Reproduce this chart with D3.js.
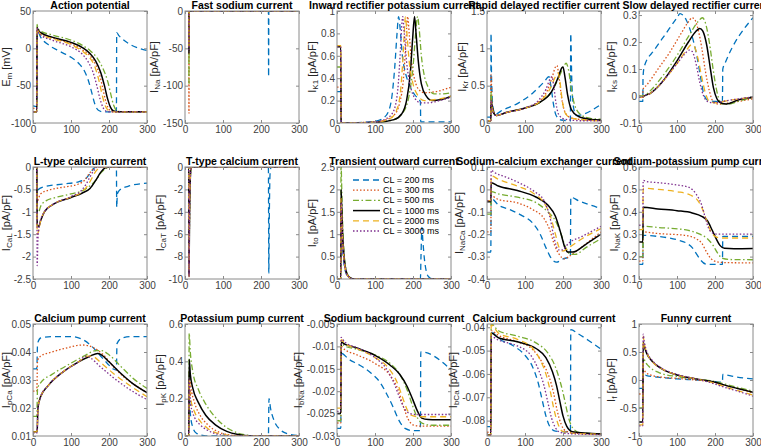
<!DOCTYPE html>
<html><head><meta charset="utf-8">
<script src="https://cdn.jsdelivr.net/npm/d3@7"></script>
<style>body{margin:0;background:#fff}svg{display:block;font-family:"Liberation Sans",Arial,Helvetica,sans-serif}</style>
</head><body><svg id="c" width="761" height="448"></svg>
<script>
// ---------------- data ----------------
const clLabels = ["CL = 200 ms","CL = 300 ms","CL = 500 ms","CL = 1000 ms","CL = 2000 ms","CL = 3000 ms"];
const xTicks = [0,100,200,300];
const panelTitles = ["Action potential","Fast sodium current","Inward rectifier potassium current","Rapid delayed rectifier current","Slow delayed rectifier current","L-type calcium current","T-type calcium current","Transient outward current","Sodium-calcium exchanger current","Sodium-potassium pump current","Calcium pump current","Potassium pump current","Sodium background current","Calcium background current","Funny current"];
const yMain = ["E","I","I","I","I","I","I","I","I","I","I","I","I","I","I"];
const ySub = ["m","Na","K1","Kr","Ks","CaL","CaT","to","NaCa","NaK","pCa","pK","bNa","bCa","f"];
const yUnit = ["[mV]","[pA/pF]","[pA/pF]","[pA/pF]","[pA/pF]","[pA/pF]","[pA/pF]","[pA/pF]","[pA/pF]","[pA/pF]","[pA/pF]","[pA/pF]","[pA/pF]","[pA/pF]","[pA/pF]"];
const yDomains = [[-100,50],[-150,0],[0,1],[0,1.5],[-0.1,0.315],[-2.5,0],[-10,0],[0,2.5],[-0.4,0.1],[0.1,0.6],[0.01,0.05],[0,0.6],[-0.03,-0.005],[-0.0866,-0.0386],[-1,1]];
const yTicks = [[-100,-50,0,50],[-150,-100,-50,0],[0,0.2,0.4,0.6,0.8,1],[0,0.5,1,1.5],[-0.1,0,0.1,0.2,0.3],[-2.5,-2,-1.5,-1,-0.5,0],[-10,-8,-6,-4,-2,0],[0,0.5,1,1.5,2,2.5],[-0.4,-0.3,-0.2,-0.1,0,0.1],[0.1,0.2,0.3,0.4,0.5,0.6],[0.01,0.02,0.03,0.04,0.05],[0,0.2,0.4,0.6],[-0.03,-0.025,-0.02,-0.015,-0.01,-0.005],[-0.08,-0.07,-0.06,-0.05,-0.04],[-1,-0.5,0,0.5,1]];

// each panel: six series (CL 200, 300, 500, 1000, 2000, 3000) of [time ms, value]
const emData = [
 [[0,-77],[10,-78],[10.6,20],[13,22],[20,15],[40,5],[70,-4],[100,-12],[120,-20],[135,-30],[145,-42],[155,-60],[163,-75],[172,-83],[185,-85],[219.5,-85],[220.3,21],[226,17],[300,-3]],
 [[0,-80],[10,-81],[10.6,27],[13,25],[20,19],[50,14],[100,6],[130,-2],[150,-10],[165,-22],[175,-35],[183,-52],[190,-68],[197,-79],[205,-84],[220,-85],[300,-85]],
 [[0,-85],[10,-85],[10.6,32],[13,27],[20,23],[50,18],[100,11],[130,4],[150,-3],[170,-14],[185,-28],[197,-45],[205,-62],[212,-76],[220,-83],[235,-85],[300,-85]],
 [[0,-85],[10,-85],[10.6,28],[13,25],[20,21],[50,15],[100,8],[130,1],[150,-7],[165,-17],[178,-32],[188,-50],[196,-67],[204,-79],[212,-84],[225,-85],[300,-85]],
 [[0,-85],[10,-85],[10.6,27],[13,24],[20,19],[50,13],[100,5],[130,-4],[150,-13],[163,-25],[173,-42],[181,-60],[188,-74],[196,-82],[205,-85],[300,-85]],
 [[0,-85],[10,-85],[10.6,27],[13,23],[20,18],[50,11],[100,2],[130,-8],[145,-18],[158,-32],[168,-50],[176,-67],[184,-79],[192,-84],[200,-85],[300,-85]]
];
const iNaData = [
 [[0,0],[10,0],[10.4,-40],[11,0],[219.5,0],[220,-88],[220.6,0],[300,0]],
 [[0,0],[10,0],[10.4,-137],[11,0],[300,0]],
 [[0,0],[10,0],[10.4,-97],[11,0],[300,0]],
 [[0,0],[10,0],[10.4,-57],[11,0],[300,0]],
 [[0,0],[10,0],[10.4,-48],[11,0],[300,0]],
 [[0,0],[10,0],[10.4,-52],[11,0],[300,0]]
];
const iK1Data = [
 [[0,0.28],[10,0.28],[10.6,0],[50,0.003],[100,0.015],[120,0.04],[135,0.1],[145,0.25],[152,0.5],[158,0.8],[162,0.95],[166,0.85],[172,0.6],[180,0.45],[192,0.33],[205,0.25],[218,0.2],[219.5,0.19],[220.3,0.01],[300,0.01]],
 [[0,0.32],[10,0.32],[10.6,0],[50,0.002],[100,0.01],[130,0.03],[150,0.07],[165,0.18],[175,0.4],[181,0.7],[186,0.95],[190,0.8],[196,0.55],[205,0.38],[215,0.3],[230,0.27],[260,0.28],[300,0.32]],
 [[0,0.5],[10,0.5],[10.6,0],[100,0.005],[150,0.03],[175,0.1],[190,0.25],[200,0.5],[207,0.8],[212,0.95],[216,0.85],[222,0.6],[230,0.42],[240,0.32],[255,0.26],[275,0.26],[300,0.27]],
 [[0,0.68],[10,0.68],[10.6,0],[100,0.005],[150,0.03],[170,0.08],[183,0.2],[193,0.45],[199,0.75],[204,0.95],[208,0.8],[214,0.55],[222,0.35],[235,0.24],[250,0.2],[275,0.21],[300,0.24]],
 [[0,0.69],[10,0.69],[10.6,0],[100,0.008],[140,0.04],[155,0.1],[166,0.25],[173,0.55],[177,0.8],[180,0.95],[184,0.8],[190,0.55],[200,0.35],[212,0.25],[230,0.2],[260,0.21],[300,0.24]],
 [[0,0.68],[10,0.68],[10.6,0],[100,0.01],[130,0.04],[148,0.1],[160,0.3],[166,0.6],[170,0.85],[173,0.95],[177,0.8],[183,0.55],[192,0.35],[205,0.22],[220,0.18],[240,0.18],[270,0.2],[300,0.23]]
];
const iKrData = [
 [[0,0.08],[10,0.08],[10.6,1.2],[12,0.6],[16,0.2],[22,0.12],[40,0.17],[80,0.26],[120,0.4],[150,0.55],[163,0.62],[168,0.5],[175,0.25],[182,0.1],[195,0.04],[219.5,0.03],[220.3,1.2],[223,0.6],[228,0.2],[235,0.1],[300,0.25]],
 [[0,0.03],[10,0.03],[10.6,0.65],[13,0.3],[18,0.15],[25,0.1],[50,0.14],[100,0.2],[140,0.3],[160,0.45],[172,0.62],[180,0.75],[184,0.77],[190,0.6],[196,0.35],[205,0.15],[220,0.07],[260,0.04],[300,0.03]],
 [[0,0.03],[10,0.03],[10.6,0.42],[13,0.25],[18,0.13],[25,0.1],[50,0.14],[100,0.2],[140,0.28],[170,0.42],[190,0.62],[203,0.77],[208,0.8],[215,0.7],[222,0.45],[232,0.22],[250,0.1],[275,0.06],[300,0.05]],
 [[0,0.03],[10,0.03],[10.6,0.3],[13,0.24],[18,0.13],[25,0.1],[50,0.14],[100,0.2],[140,0.28],[170,0.42],[188,0.62],[197,0.74],[200,0.75],[205,0.62],[212,0.38],[222,0.18],[240,0.09],[270,0.05],[300,0.04]],
 [[0,0.03],[10,0.03],[10.6,0.3],[13,0.22],[18,0.13],[25,0.1],[50,0.14],[100,0.2],[140,0.29],[165,0.45],[180,0.62],[187,0.67],[192,0.55],[198,0.3],[206,0.13],[220,0.07],[260,0.04],[300,0.03]],
 [[0,0.03],[10,0.03],[10.6,0.3],[13,0.2],[18,0.12],[25,0.1],[50,0.14],[100,0.2],[135,0.3],[155,0.45],[167,0.6],[171,0.62],[176,0.48],[182,0.25],[190,0.1],[205,0.05],[250,0.03],[300,0.03]]
];
const iKsData = [
 [[0,-0.02],[10,-0.02],[10.6,0.07],[14,0.11],[40,0.17],[70,0.23],[100,0.29],[108,0.305],[115,0.3],[125,0.28],[140,0.22],[152,0.15],[162,0.07],[170,0.01],[180,-0.015],[200,-0.02],[219.5,-0.02],[220.5,0.1],[226,0.12],[300,0.29]],
 [[0,0],[10,0],[10.6,0.025],[20,0.04],[50,0.1],[80,0.16],[110,0.23],[130,0.275],[140,0.29],[146,0.285],[155,0.25],[165,0.18],[175,0.09],[185,0.02],[195,-0.02],[210,-0.03],[240,-0.025],[300,-0.01]],
 [[0,0],[10,0],[10.6,0],[30,0.02],[60,0.07],[100,0.15],[130,0.22],[155,0.275],[167,0.29],[175,0.27],[185,0.2],[195,0.1],[203,0.03],[210,-0.01],[220,-0.03],[235,-0.03],[260,-0.02],[300,-0.005]],
 [[0,-0.005],[10,-0.005],[10.6,-0.003],[30,0.01],[60,0.05],[100,0.13],[130,0.2],[150,0.24],[160,0.25],[168,0.24],[178,0.19],[188,0.1],[196,0.03],[205,-0.01],[215,-0.025],[230,-0.03],[260,-0.015],[300,-0.005]],
 [[0,-0.005],[10,-0.005],[10.6,-0.003],[30,0.01],[60,0.05],[100,0.12],[125,0.17],[138,0.19],[145,0.185],[155,0.14],[165,0.07],[175,0.01],[185,-0.02],[200,-0.025],[240,-0.015],[300,-0.005]],
 [[0,-0.005],[10,-0.005],[10.6,-0.003],[30,0.01],[60,0.05],[100,0.12],[120,0.155],[132,0.17],[140,0.165],[150,0.12],[160,0.05],[170,0],[180,-0.02],[195,-0.025],[240,-0.015],[300,-0.003]]
];
const iCaLData = [
 [[0,0],[10,0],[11,-0.55],[14,-0.5],[30,-0.44],[80,-0.38],[120,-0.33],[140,-0.25],[150,-0.15],[158,-0.05],[165,0],[219.5,0],[220.3,-0.9],[222,-0.6],[230,-0.5],[250,-0.43],[300,-0.36]],
 [[0,0],[10,0],[11,-0.8],[14,-0.72],[20,-0.6],[40,-0.52],[80,-0.45],[120,-0.38],[135,-0.3],[148,-0.15],[158,-0.04],[168,0],[300,0]],
 [[0,0],[10,0],[11,-0.95],[15,-1.0],[20,-0.88],[35,-0.75],[60,-0.68],[100,-0.6],[130,-0.53],[150,-0.42],[165,-0.3],[180,-0.12],[195,-0.02],[205,0],[300,0]],
 [[0,0],[10,0],[11,-1.3],[15,-1.33],[20,-1.2],[30,-1.0],[50,-0.85],[100,-0.68],[130,-0.58],[150,-0.48],[165,-0.3],[178,-0.12],[190,-0.02],[200,0],[300,0]],
 [[0,0],[10,0],[11,-1.5],[14,-1.45],[20,-1.2],[30,-1.0],[50,-0.85],[100,-0.67],[130,-0.55],[145,-0.4],[155,-0.25],[165,-0.1],[175,-0.02],[185,0],[300,0]],
 [[0,0],[10,0],[11,-2.2],[13,-1.6],[18,-1.25],[30,-1.0],[50,-0.85],[100,-0.66],[128,-0.52],[140,-0.38],[150,-0.22],[160,-0.08],[170,0],[300,0]]
];
const iCaTData = [
 [[0,0],[10,0],[10.5,-9.3],[12,-4],[14,-1],[16,0],[219.5,0],[220.5,-9.5],[222,-4],[224,-0.5],[227,0],[300,0]],
 [[0,0],[10,0],[10.5,-9.5],[12,-4],[14,-1],[16,0],[300,0]],
 [[0,0],[10,0],[10.5,-9.6],[12,-4],[14,-1],[16,0],[300,0]],
 [[0,0],[10,0],[10.5,-9.7],[12,-4],[14,-1],[16,0],[300,0]],
 [[0,0],[10,0],[10.5,-9.8],[12,-4],[14,-1],[16,0],[300,0]],
 [[0,0],[10,0],[10.5,-9.8],[12,-4],[14,-1],[16,0],[300,0]]
];
const iToData = [
 [[0,0],[10,0],[10.6,1.4],[12,1.15],[15,0.65],[19,0.3],[24,0.12],[30,0.04],[38,0.01],[50,0],[219.5,0],[221,0.5],[223.5,1.15],[226,0.85],[230,0.45],[235,0.17],[241,0.05],[250,0.005],[260,0],[300,0]],
 [[0,0],[10,0],[10.6,1.6],[12,1.35],[15,0.8],[19,0.38],[24,0.15],[30,0.05],[38,0.012],[50,0],[300,0]],
 [[0,0],[10,0],[10.6,2.7],[12,2.2],[15,1.2],[19,0.55],[24,0.2],[30,0.07],[38,0.015],[50,0],[300,0]],
 [[0,0],[10,0],[10.6,2.0],[12,1.7],[15,0.95],[19,0.45],[24,0.17],[30,0.06],[38,0.014],[50,0],[300,0]],
 [[0,0],[10,0],[10.6,1.8],[12,1.5],[15,0.85],[19,0.4],[24,0.16],[30,0.055],[38,0.013],[50,0],[300,0]],
 [[0,0],[10,0],[10.6,1.7],[12,1.45],[15,0.82],[19,0.38],[24,0.15],[30,0.05],[38,0.012],[50,0],[300,0]]
];
const iNaCaData = [
 [[0,-0.28],[10,-0.28],[11,-0.04],[30,-0.07],[60,-0.09],[90,-0.115],[120,-0.15],[140,-0.2],[155,-0.26],[170,-0.31],[183,-0.325],[200,-0.31],[219.5,-0.3],[220.5,-0.035],[240,-0.05],[300,-0.085]],
 [[0,-0.19],[10,-0.19],[11,-0.03],[30,-0.045],[80,-0.06],[120,-0.09],[150,-0.13],[165,-0.18],[178,-0.25],[190,-0.29],[203,-0.31],[215,-0.3],[240,-0.27],[270,-0.23],[300,-0.19]],
 [[0,-0.11],[10,-0.11],[11,-0.01],[30,-0.02],[80,-0.035],[130,-0.06],[160,-0.1],[180,-0.14],[195,-0.2],[207,-0.26],[220,-0.29],[232,-0.29],[260,-0.26],[300,-0.22]],
 [[0,-0.055],[10,-0.055],[11,0.03],[30,0.015],[80,-0.005],[130,-0.035],[160,-0.07],[180,-0.12],[195,-0.2],[205,-0.26],[213,-0.28],[225,-0.28],[260,-0.245],[300,-0.2]],
 [[0,-0.05],[10,-0.05],[11,0.06],[30,0.045],[80,0.015],[120,-0.015],[150,-0.06],[165,-0.11],[180,-0.2],[190,-0.26],[200,-0.275],[215,-0.26],[250,-0.22],[300,-0.175]],
 [[0,-0.05],[10,-0.05],[11,0.085],[20,0.075],[50,0.055],[90,0.025],[125,-0.01],[150,-0.05],[165,-0.12],[177,-0.22],[188,-0.27],[198,-0.27],[215,-0.24],[250,-0.21],[300,-0.165]]
];
const iNaKData = [
 [[0,0.165],[10,0.165],[11,0.295],[50,0.29],[100,0.275],[125,0.26],[140,0.24],[152,0.21],[162,0.185],[175,0.167],[190,0.165],[219.5,0.165],[220.5,0.29],[300,0.29]],
 [[0,0.18],[10,0.18],[11,0.31],[50,0.303],[120,0.295],[150,0.28],[165,0.26],[178,0.22],[190,0.19],[205,0.177],[230,0.173],[300,0.172]],
 [[0,0.2],[10,0.2],[11,0.335],[50,0.33],[120,0.32],[160,0.3],[180,0.28],[195,0.25],[207,0.215],[220,0.192],[240,0.187],[300,0.186]],
 [[0,0.265],[10,0.265],[11,0.42],[50,0.413],[100,0.405],[140,0.395],[165,0.38],[180,0.36],[192,0.32],[203,0.28],[213,0.25],[225,0.237],[250,0.235],[300,0.236]],
 [[0,0.32],[10,0.32],[11,0.505],[50,0.5],[100,0.49],[135,0.475],[155,0.45],[170,0.4],[180,0.35],[190,0.31],[200,0.29],[215,0.283],[300,0.283]],
 [[0,0.34],[10,0.34],[11,0.54],[20,0.535],[50,0.53],[100,0.52],[130,0.51],[150,0.48],[165,0.43],[175,0.37],[185,0.32],[195,0.305],[210,0.3],[300,0.3]]
];
const iPCaData = [
 [[0,0.034],[10,0.034],[12,0.043],[20,0.045],[50,0.0455],[100,0.0455],[130,0.0445],[155,0.042],[175,0.039],[195,0.036],[210,0.034],[219.5,0.0335],[221,0.043],[235,0.045],[260,0.0455],[300,0.0455]],
 [[0,0.026],[10,0.026],[12,0.037],[20,0.0385],[50,0.04],[90,0.0415],[130,0.0425],[160,0.0415],[185,0.039],[210,0.035],[240,0.031],[270,0.028],[300,0.0255]],
 [[0,0.017],[10,0.017],[12,0.027],[20,0.029],[50,0.032],[100,0.036],[140,0.039],[165,0.0405],[180,0.0405],[200,0.039],[230,0.035],[260,0.031],[300,0.027]],
 [[0,0.0115],[10,0.0115],[11,0.012],[13,0.02],[20,0.024],[40,0.028],[80,0.033],[120,0.0365],[150,0.0385],[170,0.0395],[180,0.039],[200,0.0365],[230,0.0325],[260,0.029],[300,0.0255]],
 [[0,0.0115],[10,0.0115],[11,0.012],[13,0.02],[20,0.024],[40,0.028],[80,0.033],[120,0.0365],[145,0.0385],[155,0.0385],[180,0.036],[210,0.0325],[250,0.0285],[300,0.024]],
 [[0,0.011],[10,0.011],[11,0.012],[13,0.02],[20,0.024],[40,0.028],[80,0.033],[115,0.036],[140,0.0385],[150,0.038],[175,0.035],[210,0.031],[250,0.027],[300,0.023]]
];
const iPKData = [
 [[0,0],[10,0],[11,0.22],[14,0.12],[20,0.05],[30,0.015],[50,0.002],[70,0],[219.5,0],[221,0.2],[225,0.15],[235,0.08],[250,0.035],[270,0.012],[300,0.002]],
 [[0,0],[10,0],[11,0.35],[15,0.27],[25,0.18],[40,0.11],[60,0.06],[90,0.02],[120,0.005],[150,0],[300,0]],
 [[0,0],[10,0],[11,0.55],[14,0.45],[20,0.35],[35,0.25],[55,0.17],[80,0.1],[110,0.045],[140,0.015],[170,0.003],[200,0],[300,0]],
 [[0,0],[10,0],[11,0.41],[14,0.33],[20,0.26],[35,0.18],[55,0.11],[80,0.06],[110,0.025],[140,0.008],[170,0.001],[200,0],[300,0]],
 [[0,0],[10,0],[11,0.3],[15,0.2],[25,0.13],[40,0.08],[60,0.04],[90,0.012],[120,0.003],[150,0],[300,0]],
 [[0,0],[10,0],[11,0.3],[15,0.17],[25,0.1],[40,0.06],[60,0.03],[90,0.008],[120,0.001],[150,0],[300,0]]
];
const iBNaData = [
 [[0,-0.0283],[10,-0.0283],[11,-0.0115],[30,-0.0128],[60,-0.0142],[90,-0.016],[113,-0.018],[130,-0.0205],[148,-0.0236],[163,-0.0265],[179,-0.0283],[200,-0.0288],[219.5,-0.0288],[220.5,-0.0112],[300,-0.0152]],
 [[0,-0.0271],[10,-0.0271],[11,-0.01],[20,-0.0107],[50,-0.0118],[100,-0.0138],[140,-0.0165],[160,-0.0195],[175,-0.0235],[187,-0.0262],[200,-0.0275],[220,-0.0278],[300,-0.0278]],
 [[0,-0.0266],[10,-0.0266],[11,-0.0093],[20,-0.0099],[50,-0.0106],[100,-0.0119],[140,-0.0138],[165,-0.0162],[185,-0.0198],[200,-0.0235],[212,-0.026],[225,-0.0272],[250,-0.0276],[300,-0.0276]],
 [[0,-0.025],[10,-0.025],[11,-0.009],[20,-0.0095],[50,-0.0103],[100,-0.012],[140,-0.0142],[165,-0.0162],[185,-0.019],[200,-0.022],[212,-0.0245],[223,-0.026],[240,-0.0263],[300,-0.0264]],
 [[0,-0.0238],[10,-0.0238],[11,-0.0085],[20,-0.0093],[50,-0.0104],[100,-0.0125],[135,-0.0148],[158,-0.018],[173,-0.0215],[185,-0.0242],[197,-0.0254],[215,-0.0257],[300,-0.0257]],
 [[0,-0.0245],[10,-0.0245],[11,-0.008],[20,-0.009],[50,-0.0102],[100,-0.0125],[130,-0.015],[150,-0.0182],[165,-0.0215],[177,-0.0238],[190,-0.0249],[205,-0.0252],[300,-0.0252]]
];
const iBCaData = [
 [[0,-0.0826],[10,-0.0826],[11,-0.042],[30,-0.0448],[70,-0.048],[100,-0.052],[120,-0.057],[135,-0.064],[145,-0.071],[155,-0.078],[165,-0.0825],[180,-0.0845],[219.5,-0.0848],[220.5,-0.041],[240,-0.0428],[300,-0.0494]],
 [[0,-0.085],[10,-0.085],[11,-0.0415],[30,-0.0435],[80,-0.0462],[120,-0.0495],[145,-0.055],[163,-0.061],[175,-0.068],[185,-0.076],[195,-0.0815],[208,-0.0845],[240,-0.0855],[300,-0.0858]],
 [[0,-0.0862],[10,-0.0862],[11,-0.0385],[30,-0.0415],[80,-0.0438],[130,-0.0468],[160,-0.051],[180,-0.057],[192,-0.063],[200,-0.068],[208,-0.074],[215,-0.079],[225,-0.083],[245,-0.0852],[300,-0.0857]],
 [[0,-0.0862],[10,-0.0862],[11,-0.0425],[30,-0.0445],[80,-0.0462],[130,-0.0492],[155,-0.053],[172,-0.059],[183,-0.065],[192,-0.072],[200,-0.078],[210,-0.0825],[225,-0.0848],[300,-0.0857]],
 [[0,-0.0862],[10,-0.0862],[11,-0.039],[30,-0.0425],[80,-0.0452],[120,-0.049],[140,-0.054],[155,-0.06],[166,-0.067],[176,-0.075],[186,-0.081],[198,-0.0845],[230,-0.0855],[300,-0.0858]],
 [[0,-0.0862],[10,-0.0862],[11,-0.044],[30,-0.0455],[80,-0.048],[115,-0.052],[135,-0.058],[150,-0.065],[160,-0.072],[170,-0.079],[180,-0.083],[195,-0.0852],[230,-0.0857],[300,-0.086]]
];
const iFData = [
 [[0,-0.15],[10,-0.15],[11,0.1],[20,0.08],[50,0.05],[100,0.02],[150,0],[190,-0.02],[219.5,-0.04],[220.5,0.1],[250,0.06],[300,0.02]],
 [[0,-0.25],[10,-0.25],[11,0.2],[16,0.15],[30,0.09],[60,0.05],[100,0.03],[150,0],[190,-0.03],[230,-0.1],[270,-0.17],[300,-0.23]],
 [[0,-0.5],[10,-0.5],[11,0.42],[16,0.33],[25,0.25],[50,0.14],[100,0.06],[150,0.02],[195,-0.02],[230,-0.08],[265,-0.14],[300,-0.2]],
 [[0,-0.75],[10,-0.75],[11,0.68],[14,0.6],[20,0.48],[35,0.33],[60,0.2],[100,0.09],[150,0.02],[195,-0.03],[230,-0.1],[265,-0.16],[300,-0.22]],
 [[0,-0.8],[10,-0.8],[11,0.78],[14,0.65],[20,0.5],[35,0.33],[60,0.2],[100,0.09],[150,0.02],[190,-0.04],[230,-0.13],[265,-0.2],[300,-0.27]],
 [[0,-0.82],[10,-0.82],[11,0.82],[14,0.68],[20,0.52],[35,0.35],[60,0.21],[100,0.1],[150,0.02],[185,-0.04],[225,-0.13],[265,-0.21],[300,-0.29]]
];
const panelData = [emData,iNaData,iK1Data,iKrData,iKsData,iCaLData,iCaTData,iToData,iNaCaData,iNaKData,iPCaData,iPKData,iBNaData,iBCaData,iFData];

// ---------------- layout & style ----------------
const colLeft = [33,185,337,487,639], rowTop = [11,167,324], PW = 114, PH = 112;
const colors = ["#0072BD","#D95319","#77AC30","#000000","#EDB120","#7E2F8E"];
const dashes = ["6,4","1.5,2","6,2.5,1.5,2.5",null,"6,4","1.5,2"];
const widths = [1.3,1.3,1.3,1.5,1.3,1.3];
const axisColor = "#8a8a8a", textColor = "#404040";

const svg = d3.select("#c");
svg.append("rect").attr("width",761).attr("height",448).attr("fill","#fff");
const defs = svg.append("defs");

panelData.forEach((series,p) => {
  const col = p % 5, row = Math.floor(p/5);
  const L = colLeft[col], T = rowTop[row];
  const x = d3.scaleLinear().domain([0,300]).range([L, L+PW]);
  const y = d3.scaleLinear().domain(yDomains[p]).range([T+PH, T]);
  const g = svg.append("g");
  defs.append("clipPath").attr("id","cp"+p).append("rect").attr("x",L).attr("y",T).attr("width",PW).attr("height",PH);

  const line = d3.line().x(d=>x(d[0])).y(d=>y(d[1])).curve(d3.curveMonotoneX);
  const lg = g.append("g").attr("clip-path","url(#cp"+p+")");
  series.forEach((s,i) => {
    lg.append("path").attr("d",line(s)).attr("fill","none")
      .attr("stroke",colors[i]).attr("stroke-width",widths[i])
      .attr("stroke-dasharray",dashes[i]);
  });

  // axes
  const ax = g.append("g").attr("font-size",10).attr("fill",textColor);
  ax.append("g").attr("transform",`translate(0,${T+PH})`)
    .call(d3.axisBottom(x).tickValues(xTicks).tickFormat(d=>String(d)).tickSizeInner(-3).tickSizeOuter(0).tickPadding(3));
  const left = ax.append("g").attr("transform",`translate(${L},0)`)
    .call(d3.axisLeft(y).tickValues(yTicks[p]).tickFormat(d=>String(d)).tickSizeInner(-3).tickSizeOuter(0).tickPadding(2));
  ax.append("g").attr("transform",`translate(0,${T})`)
    .call(d3.axisTop(x).tickValues(xTicks).tickFormat("").tickSizeInner(-3).tickSizeOuter(0));
  ax.append("g").attr("transform",`translate(${L+PW},0)`)
    .call(d3.axisRight(y).tickValues(yTicks[p]).tickFormat("").tickSizeInner(-3).tickSizeOuter(0));
  ax.selectAll(".domain").remove();
  ax.selectAll(".tick line").attr("stroke",axisColor);
  ax.selectAll(".tick text").attr("fill",textColor).attr("font-size",10)
    .attr("font-family",'"Liberation Sans",Arial,sans-serif');
  g.append("rect").attr("x",L).attr("y",T).attr("width",PW).attr("height",PH)
    .attr("fill","none").attr("stroke",axisColor).attr("stroke-width",1);

  // title
  g.append("text").attr("x",L+PW/2).attr("y",T-2).attr("text-anchor","middle")
    .attr("font-size",10.5).attr("font-weight","bold").attr("fill","#000").text(panelTitles[p]);

  // y label, placed just left of the tick labels
  let minX = L;
  left.selectAll(".tick text").each(function(){ const b=this.getBBox(); minX=Math.min(minX, b.x + L); });
  const lx = Math.max(6, minX - 9);
  const yl = g.append("text").attr("transform",`translate(${lx},${T+PH/2}) rotate(-90)`)
    .attr("text-anchor","middle").attr("dominant-baseline","central").attr("font-size",11).attr("fill","#262626");
  yl.append("tspan").text(yMain[p]);
  yl.append("tspan").attr("font-size",8).attr("dy",3).text(ySub[p]);
  yl.append("tspan").attr("dy",-3).text(" " + yUnit[p]);

  // legend on transient outward panel
  if (p === 7) {
    const leg = g.append("g");
    clLabels.forEach((lab,i) => {
      const yy = T + 13 + i*10.2;
      leg.append("line").attr("x1",L+16).attr("x2",L+43).attr("y1",yy).attr("y2",yy)
        .attr("stroke",colors[i]).attr("stroke-width",widths[i]).attr("stroke-dasharray",dashes[i]);
      leg.append("text").attr("x",L+46).attr("y",yy).attr("dominant-baseline","central")
        .attr("font-size",9).attr("fill","#000").text(lab);
    });
  }
});
</script>
</body></html>
